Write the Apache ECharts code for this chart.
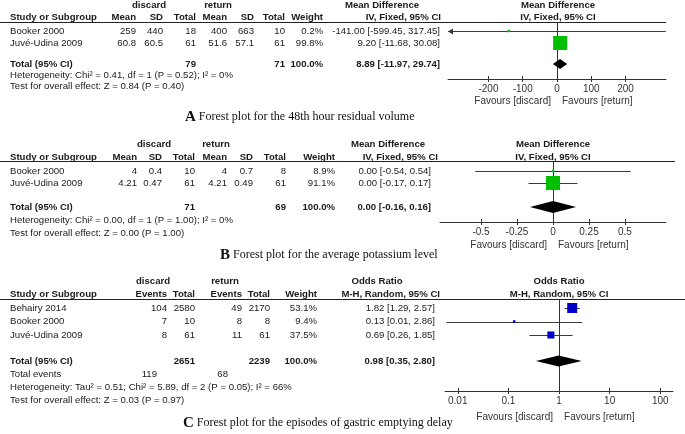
<!DOCTYPE html>
<html><head><meta charset="utf-8">
<script src="https://cdn.jsdelivr.net/npm/echarts@6/dist/echarts.min.js"></script>
<style>html,body{margin:0;padding:0;background:#fff}#c{width:685px;height:434px}</style>
</head><body><div id="c"></div>
<script>
// ===== Panel A: 48th hour residual volume (Mean Difference, IV Fixed) =====
const studiesA = ['Booker 2000', 'Juvé-Udina 2009'];
const discardMeanA = [259, 60.8];
const discardSDA = [440, 60.5];
const discardTotalA = [18, 61];
const returnMeanA = [400, 51.6];
const returnSDA = [663, 57.1];
const returnTotalA = [10, 61];
const weightA = [0.2, 99.8];
const effectA = [-141.00, 9.20];
const lowerA = [-599.45, -11.68];
const upperA = [317.45, 30.08];
const totalsA = [79, 71];
const pooledA = [8.89, -11.97, 29.74];
const hetA = 'Heterogeneity: Chi² = 0.41, df = 1 (P = 0.52); I² = 0%';
const testA = 'Test for overall effect: Z = 0.84 (P = 0.40)';
const ticksA = [-200, -100, 0, 100, 200];

// ===== Panel B: average potassium level =====
const studiesB = ['Booker 2000', 'Juvé-Udina 2009'];
const discardMeanB = [4, 4.21];
const discardSDB = [0.4, 0.47];
const discardTotalB = [10, 61];
const returnMeanB = [4, 4.21];
const returnSDB = [0.7, 0.49];
const returnTotalB = [8, 61];
const weightB = [8.9, 91.1];
const effectB = [0.00, 0.00];
const lowerB = [-0.54, -0.17];
const upperB = [0.54, 0.17];
const totalsB = [71, 69];
const pooledB = [0.00, -0.16, 0.16];
const hetB = 'Heterogeneity: Chi² = 0.00, df = 1 (P = 1.00); I² = 0%';
const testB = 'Test for overall effect: Z = 0.00 (P = 1.00)';
const ticksB = [-0.5, -0.25, 0, 0.25, 0.5];

// ===== Panel C: episodes of gastric emptying delay (Odds Ratio, M-H Random) =====
const studiesC = ['Behairy 2014', 'Booker 2000', 'Juvé-Udina 2009'];
const discardEventsC = [104, 7, 8];
const discardTotalC = [2580, 10, 61];
const returnEventsC = [49, 8, 11];
const returnTotalC = [2170, 8, 61];
const weightC = [53.1, 9.4, 37.5];
const effectC = [1.82, 0.13, 0.69];
const lowerC = [1.29, 0.006, 0.26];
const upperC = [2.57, 2.86, 1.85];
const totalsC = [2651, 2239];
const totalEventsC = [119, 68];
const pooledC = [0.98, 0.35, 2.80];
const hetC = 'Heterogeneity: Tau² = 0.51; Chi² = 5.89, df = 2 (P = 0.05); I² = 66%';
const testC = 'Test for overall effect: Z = 0.03 (P = 0.97)';
const ticksC = [0.01, 0.1, 1, 10, 100];

const captions = [
  ['A', ' Forest plot for the 48th hour residual volume'],
  ['B', ' Forest plot for the average potassium level'],
  ['C', ' Forest plot for the episodes of gastric emptying delay']
];

// ===== styling / layout =====
const FONT = '"Liberation Sans", Arial, sans-serif';
const SERIF = '"Liberation Serif", "Times New Roman", serif';
const TXT = '#1a1a1a';
const AX = '#333';
const FS = 9.6;

const ci = (e, l, h) => e.toFixed(2) + ' [' + l.toFixed(2) + ', ' + h.toFixed(2) + ']';
const pct = w => w.toFixed(1) + '%';

const panels = [
  {
    studies: studiesA, w: weightA, eff: effectA, lo: lowerA, hi: upperA, pooled: pooledA,
    het: hetA, test: testA, ticks: ticksA, log: false, range: [-318, 318], zero: 0,
    color: '#00c000', boxMax: 14, diamondH: 10,
    lay: { gh: 5, ch: 17, line: 22, first: 31, step: 12, gap: 1.75, axis: 79, het: 75, test: 86, fav: 101, lineEnd: 666, cap: 117 },
    grid: [448, 666], capX: 185,
    groups: [['discard', 149], ['return', 218]],
    cols: [
      { h: 'Mean', x: 136, v: discardMeanA }, { h: 'SD', x: 163, v: discardSDA },
      { h: 'Total', x: 196, v: discardTotalA, t: totalsA[0] },
      { h: 'Mean', x: 227, v: returnMeanA }, { h: 'SD', x: 254, v: returnSDA },
      { h: 'Total', x: 285, v: returnTotalA, t: totalsA[1] },
      { h: 'Weight', x: 323, v: weightA.map(pct), t: '100.0%' }
    ],
    effHead: ['Mean Difference', 'IV, Fixed, 95% CI'], effHeadX: [382, 441], ciX: 440, plotHeadX: 558
  },
  {
    studies: studiesB, w: weightB, eff: effectB, lo: lowerB, hi: upperB, pooled: pooledB,
    het: hetB, test: testB, ticks: ticksB, log: false, range: [-0.785, 0.785], zero: 0,
    color: '#00c000', boxMax: 14, diamondH: 12,
    lay: { gh: 144, ch: 157, line: 161, first: 171, step: 12, gap: 2, axis: 222, het: 220, test: 233, fav: 245, lineEnd: 675, cap: 255 },
    grid: [440, 666], capX: 220,
    groups: [['discard', 154], ['return', 216]],
    cols: [
      { h: 'Mean', x: 137, v: discardMeanB }, { h: 'SD', x: 162, v: discardSDB },
      { h: 'Total', x: 195, v: discardTotalB, t: totalsB[0] },
      { h: 'Mean', x: 227, v: returnMeanB }, { h: 'SD', x: 253, v: returnSDB },
      { h: 'Total', x: 286, v: returnTotalB, t: totalsB[1] },
      { h: 'Weight', x: 335, v: weightB.map(pct), t: '100.0%' }
    ],
    effHead: ['Mean Difference', 'IV, Fixed, 95% CI'], effHeadX: [388, 438], ciX: 431, plotHeadX: 553
  },
  {
    studies: studiesC, w: weightC, eff: effectC, lo: lowerC, hi: upperC, pooled: pooledC,
    het: hetC, test: testC, ticks: ticksC, log: true, range: [0.0056, 178], zero: 1,
    color: '#0000c8', boxMax: 10, diamondH: 11,
    lay: { gh: 281, ch: 294, line: 299, first: 308, step: 13.5, gap: 1.93, axis: 391, totEv: 374, het: 387, test: 400, fav: 417, lineEnd: 685, cap: 423 },
    grid: [445, 673], capX: 183,
    groups: [['discard', 153], ['return', 225]],
    cols: [
      { h: 'Events', x: 167, v: discardEventsC }, { h: 'Total', x: 195, v: discardTotalC, t: totalsC[0] },
      { h: 'Events', x: 242, v: returnEventsC }, { h: 'Total', x: 270, v: returnTotalC, t: totalsC[1] },
      { h: 'Weight', x: 317, v: weightC.map(pct), t: '100.0%' }
    ],
    effHead: ['Odds Ratio', 'M-H, Random, 95% CI'], effHeadX: [377, 440], ciX: 435, plotHeadX: 559,
    totalEvents: { v: totalEventsC, x: [157, 228] }
  }
];

const chart = echarts.init(document.getElementById('c'), null, { renderer: 'canvas' });

const grids = [], xAxes = [], yAxes = [], series = [];
panels.forEach((p, i) => {
  const L = p.lay;
  grids.push({ left: p.grid[0], width: p.grid[1] - p.grid[0], top: L.line, height: L.axis - L.line, containLabel: false });
  const fmt = v => String(+Number(v).toPrecision(6));
  const base = {
    gridIndex: i, type: p.log ? 'log' : 'value', logBase: 10, min: p.range[0], max: p.range[1],
    position: 'bottom', splitLine: { show: false }
  };
  xAxes.push(Object.assign({}, base, {
    axisLine: { show: true, onZero: false, lineStyle: { color: AX, width: 1 } },
    axisTick: { show: true, inside: false, length: 3, customValues: p.ticks, lineStyle: { color: AX, width: 1 } },
    axisLabel: { show: true, customValues: p.ticks, formatter: fmt, margin: 5, fontSize: 10, color: AX, fontFamily: FONT }
  }));
  xAxes.push(Object.assign({}, base, {
    axisLine: { show: false, onZero: false },
    axisTick: { show: true, inside: true, length: 3, customValues: p.ticks, lineStyle: { color: AX, width: 1 } },
    axisLabel: { show: false }
  }));
  // y axis measured in table rows (row 0 = first study)
  yAxes.push({
    gridIndex: i, type: 'value', inverse: true, show: false,
    min: (L.line - L.first) / L.step, max: (L.axis - L.first) / L.step
  });
  const maxW = Math.max.apply(null, p.w);
  series.push({
    type: 'custom', xAxisIndex: 2 * i, yAxisIndex: i, clip: false, silent: true,
    data: p.studies.map((s, k) => [p.eff[k], k, p.lo[k], p.hi[k], p.w[k]]),
    renderItem: (params, api) => {
      const e = api.value(0), r = api.value(1), lo = api.value(2), hi = api.value(3), w = api.value(4);
      const loC = Math.max(lo, p.range[0]), hiC = Math.min(hi, p.range[1]);
      const a = api.coord([loC, r]), b = api.coord([hiC, r]), c = api.coord([e, r]);
      const y = Math.round(a[1]) + 0.5;
      const side = Math.max(2.5, p.boxMax * w / maxW);
      const ch = [{ type: 'line', shape: { x1: a[0], y1: y, x2: b[0], y2: y }, style: { stroke: '#3a3a3a', lineWidth: 1 } }];
      if (lo < p.range[0]) ch.push({ type: 'polygon', shape: { points: [[a[0], y], [a[0] + 5, y - 3], [a[0] + 5, y + 3]] }, style: { fill: '#3a3a3a' } });
      if (hi > p.range[1]) ch.push({ type: 'polygon', shape: { points: [[b[0], y], [b[0] - 5, y - 3], [b[0] - 5, y + 3]] }, style: { fill: '#3a3a3a' } });
      ch.push({ type: 'rect', shape: { x: c[0] - side / 2, y: c[1] - side / 2, width: side, height: side }, style: { fill: p.color } });
      return { type: 'group', children: ch };
    },
    z: 5
  });
  series.push({
    type: 'custom', xAxisIndex: 2 * i, yAxisIndex: i, clip: false, silent: true,
    data: [[p.pooled[0], p.studies.length - 1 + L.gap, p.pooled[1], p.pooled[2]]],
    renderItem: (params, api) => {
      const e = api.value(0), r = api.value(1);
      const a = api.coord([api.value(2), r]), b = api.coord([api.value(3), r]), c = api.coord([e, r]);
      const h = p.diamondH / 2;
      return { type: 'polygon', shape: { points: [[a[0], c[1]], [c[0], c[1] - h], [b[0], c[1]], [c[0], c[1] + h]] }, style: { fill: '#000' } };
    },
    markLine: {
      silent: true, symbol: 'none', animation: false, label: { show: false },
      lineStyle: { color: AX, type: 'solid', width: 1 },
      data: [{ xAxis: p.zero }]
    },
    z: 6
  });
});

chart.setOption({
  animation: false,
  backgroundColor: '#fff',
  grid: grids, xAxis: xAxes, yAxis: yAxes, series: series
});

// ===== table text & annotations =====
const els = [];
function T(x, y, text, o) {
  o = o || {};
  els.push({ type: 'text', x: x, y: y, silent: true, z: 10, style: {
    text: String(text), fontFamily: FONT, fontSize: o.size || FS, fontWeight: o.bold ? 'bold' : 'normal',
    fill: o.color || TXT, align: o.align || 'left', verticalAlign: 'middle' } });
}
function HL(x1, x2, y) {
  els.push({ type: 'line', silent: true, z: 10, shape: { x1: x1, y1: y + 0.5, x2: x2, y2: y + 0.5 }, style: { stroke: '#222', lineWidth: 1 } });
}

panels.forEach((p, i) => {
  const L = p.lay;
  const rowY = k => L.first + k * L.step;
  const totIdx = p.studies.length - 1 + L.gap;
  p.groups.forEach(g => T(g[1], L.gh, g[0], { bold: true, align: 'center' }));
  T(p.effHeadX[0], L.gh, p.effHead[0], { bold: true, align: 'center' });
  T(p.effHeadX[1], L.ch, p.effHead[1], { bold: true, align: 'right' });
  T(p.plotHeadX, L.gh, p.effHead[0], { bold: true, align: 'center' });
  T(p.plotHeadX, L.ch, p.effHead[1], { bold: true, align: 'center' });
  T(10, L.ch, 'Study or Subgroup', { bold: true });
  p.cols.forEach(c => T(c.x, L.ch, c.h, { bold: true, align: 'right' }));
  HL(0, L.lineEnd, L.line);
  p.studies.forEach((s, k) => {
    T(10, rowY(k), s);
    p.cols.forEach(c => T(c.x, rowY(k), c.v[k], { align: 'right' }));
    T(p.ciX, rowY(k), ci(p.eff[k], p.lo[k], p.hi[k]), { align: 'right' });
  });
  T(10, rowY(totIdx), 'Total (95% CI)', { bold: true });
  p.cols.forEach(c => { if (c.t !== undefined) T(c.x, rowY(totIdx), c.t, { bold: true, align: 'right' }); });
  T(p.ciX, rowY(totIdx), ci(p.pooled[0], p.pooled[1], p.pooled[2]), { bold: true, align: 'right' });
  if (p.totalEvents) {
    T(10, L.totEv, 'Total events');
    p.totalEvents.v.forEach((v, k) => T(p.totalEvents.x[k], L.totEv, v, { align: 'right' }));
  }
  T(10, L.het, p.het);
  T(10, L.test, p.test);
  const zx = chart.convertToPixel({ xAxisIndex: 2 * i }, p.zero);
  T(zx - 6, L.fav, 'Favours [discard]', { size: 10, color: AX, align: 'right' });
  T(zx + 5, L.fav, 'Favours [return]', { size: 10, color: AX, align: 'left' });
  els.push({ type: 'text', x: p.capX, y: L.cap, silent: true, z: 10, style: {
    text: '{L|' + captions[i][0] + '}' + captions[i][1],
    fontFamily: SERIF, fontSize: 12, fill: '#111', verticalAlign: 'middle',
    rich: { L: { fontFamily: SERIF, fontSize: 15, fontWeight: 'bold', fill: '#111' } } } });
});

chart.setOption({ graphic: { elements: els } });
</script>
</body></html>
